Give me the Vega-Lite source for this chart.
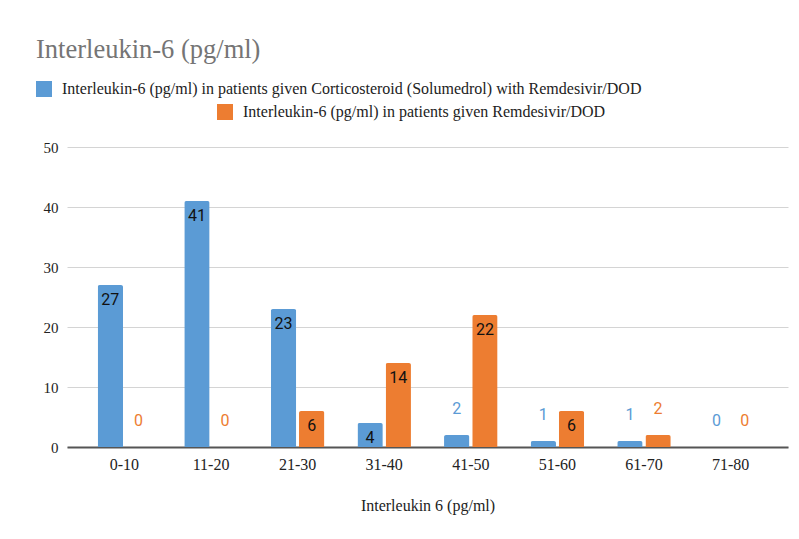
{
  "$schema": "https://vega.github.io/schema/vega-lite/v6.json",
  "autosize": {"type": "none"},
  "width": 721,
  "height": 300,
  "padding": {"left": 67, "top": 147, "right": 11, "bottom": 92},
  "background": "white",
  "title": {
    "text": "Interleukin-6 (pg/ml)",
    "anchor": "start",
    "frame": "group",
    "dx": -31,
    "offset": -3,
    "baseline": "alphabetic",
    "font": "Liberation Serif",
    "fontSize": 26.5,
    "fontWeight": "normal",
    "color": "#757575"
  },
  "datasets": {
    "il6": [
      {"range": "0-10", "series": "Interleukin-6 (pg/ml) in patients given Corticosteroid (Solumedrol) with Remdesivir/DOD", "n": 27},
      {"range": "11-20", "series": "Interleukin-6 (pg/ml) in patients given Corticosteroid (Solumedrol) with Remdesivir/DOD", "n": 41},
      {"range": "21-30", "series": "Interleukin-6 (pg/ml) in patients given Corticosteroid (Solumedrol) with Remdesivir/DOD", "n": 23},
      {"range": "31-40", "series": "Interleukin-6 (pg/ml) in patients given Corticosteroid (Solumedrol) with Remdesivir/DOD", "n": 4},
      {"range": "41-50", "series": "Interleukin-6 (pg/ml) in patients given Corticosteroid (Solumedrol) with Remdesivir/DOD", "n": 2},
      {"range": "51-60", "series": "Interleukin-6 (pg/ml) in patients given Corticosteroid (Solumedrol) with Remdesivir/DOD", "n": 1},
      {"range": "61-70", "series": "Interleukin-6 (pg/ml) in patients given Corticosteroid (Solumedrol) with Remdesivir/DOD", "n": 1},
      {"range": "71-80", "series": "Interleukin-6 (pg/ml) in patients given Corticosteroid (Solumedrol) with Remdesivir/DOD", "n": 0},
      {"range": "0-10", "series": "Interleukin-6 (pg/ml) in patients given Remdesivir/DOD", "n": 0},
      {"range": "11-20", "series": "Interleukin-6 (pg/ml) in patients given Remdesivir/DOD", "n": 0},
      {"range": "21-30", "series": "Interleukin-6 (pg/ml) in patients given Remdesivir/DOD", "n": 6},
      {"range": "31-40", "series": "Interleukin-6 (pg/ml) in patients given Remdesivir/DOD", "n": 14},
      {"range": "41-50", "series": "Interleukin-6 (pg/ml) in patients given Remdesivir/DOD", "n": 22},
      {"range": "51-60", "series": "Interleukin-6 (pg/ml) in patients given Remdesivir/DOD", "n": 6},
      {"range": "61-70", "series": "Interleukin-6 (pg/ml) in patients given Remdesivir/DOD", "n": 2},
      {"range": "71-80", "series": "Interleukin-6 (pg/ml) in patients given Remdesivir/DOD", "n": 0}
    ]
  },
  "data": {"name": "il6"},
  "encoding": {
    "x": {
      "field": "range",
      "type": "nominal",
      "sort": null,
      "scale": {"paddingInner": 0.382, "paddingOuter": 0.354},
      "axis": {
        "title": "Interleukin 6 (pg/ml)",
        "labelAngle": 0,
        "labelFontSize": 16,
        "titleFontSize": 16,
        "ticks": false,
        "labelPadding": 9,
        "titlePadding": 25
      }
    },
    "xOffset": {
      "field": "series",
      "type": "nominal",
      "scale": {
        "domain": [
          "Interleukin-6 (pg/ml) in patients given Corticosteroid (Solumedrol) with Remdesivir/DOD",
          "Interleukin-6 (pg/ml) in patients given Remdesivir/DOD"
        ],
        "paddingInner": 0.1,
        "paddingOuter": 0
      }
    },
    "y": {
      "field": "n",
      "type": "quantitative",
      "scale": {"domain": [0, 50]},
      "axis": {
        "title": null,
        "values": [0, 10, 20, 30, 40, 50],
        "domain": false,
        "ticks": false,
        "labelPadding": 9
      }
    }
  },
  "layer": [
    {
      "transform": [{"filter": "indexof(datum.series, 'Corticosteroid') >= 0"}],
      "layer": [
        {
          "mark": {"type": "bar", "cornerRadiusTopLeft": 2, "cornerRadiusTopRight": 2},
          "encoding": {
            "color": {
              "field": "series",
              "type": "nominal",
              "scale": {"range": ["#5B9BD5"]},
              "legend": {"legendX": -31, "legendY": -66}
            }
          }
        },
        {
          "transform": [{"filter": "datum.n >= 3"}],
          "mark": {"type": "text", "font": "Roboto", "fontSize": 16, "baseline": "alphabetic", "dy": 20, "color": "#111111"},
          "encoding": {"text": {"field": "n", "type": "quantitative"}}
        },
        {
          "transform": [{"filter": "datum.n < 3"}],
          "mark": {"type": "text", "font": "Roboto", "fontSize": 16, "baseline": "alphabetic", "dy": -21, "color": "#5B9BD5"},
          "encoding": {"text": {"field": "n", "type": "quantitative"}}
        }
      ]
    },
    {
      "transform": [{"filter": "indexof(datum.series, 'Corticosteroid') < 0"}],
      "layer": [
        {
          "mark": {"type": "bar", "cornerRadiusTopLeft": 2, "cornerRadiusTopRight": 2},
          "encoding": {
            "color": {
              "field": "series",
              "type": "nominal",
              "scale": {"range": ["#ED7D31"]},
              "legend": {"legendX": 150, "legendY": -43}
            }
          }
        },
        {
          "transform": [{"filter": "datum.n >= 3"}],
          "mark": {"type": "text", "font": "Roboto", "fontSize": 16, "baseline": "alphabetic", "dy": 20, "color": "#111111"},
          "encoding": {"text": {"field": "n", "type": "quantitative"}}
        },
        {
          "transform": [{"filter": "datum.n < 3"}],
          "mark": {"type": "text", "font": "Roboto", "fontSize": 16, "baseline": "alphabetic", "dy": -21, "color": "#ED7D31"},
          "encoding": {"text": {"field": "n", "type": "quantitative"}}
        }
      ]
    }
  ],
  "resolve": {"scale": {"color": "independent"}},
  "config": {
    "view": {"stroke": null},
    "font": "Liberation Serif",
    "axis": {
      "labelFont": "Liberation Serif",
      "labelFontSize": 15,
      "labelColor": "#222222",
      "titleFont": "Liberation Serif",
      "titleFontSize": 15,
      "titleFontWeight": "normal",
      "titleColor": "#222222",
      "gridColor": "#d4d4d4",
      "gridWidth": 1,
      "domainColor": "#555555",
      "domainWidth": 2
    },
    "legend": {
      "orient": "none",
      "title": null,
      "padding": 0,
      "symbolType": "square",
      "symbolSize": 256,
      "symbolStrokeWidth": 0,
      "symbolOpacity": 1,
      "labelFont": "Liberation Serif",
      "labelFontSize": 16,
      "labelColor": "#222222",
      "labelLimit": 0,
      "labelOffset": 10
    }
  }
}
